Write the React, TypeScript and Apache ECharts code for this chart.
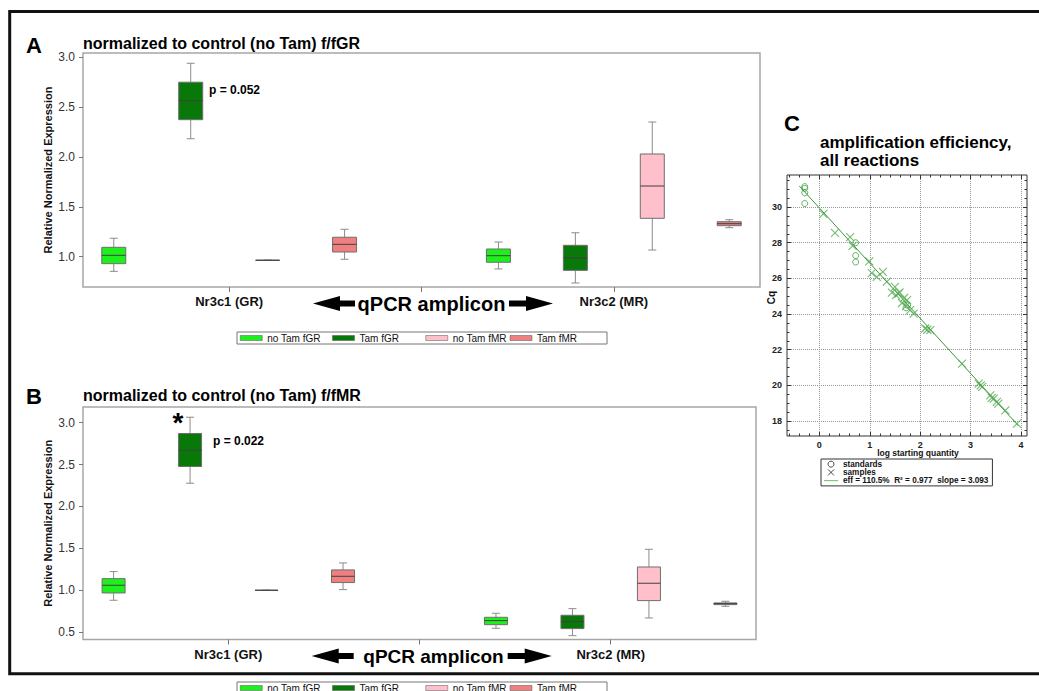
import React, { useEffect, useRef } from 'react';
import * as echarts from 'echarts';

// ---------- data ----------
const genes = ['Nr3c1 (GR)', 'Nr3c2 (MR)'];
const groupNames = ['no Tam fGR', 'Tam fGR', 'no Tam fMR', 'Tam fMR'];

// Panel A: [min, Q1, median, Q3, max] for Nr3c1, Nr3c2
const aNoTamFGR = [[0.853, 0.93, 1.014, 1.094, 1.185], [0.877, 0.944, 1.01, 1.077, 1.147]];
const aTamFGR = [[2.183, 2.374, 2.565, 2.75, 2.94], [0.736, 0.863, 0.987, 1.114, 1.24]];
const aNoTamFMR = [[0.964, 0.964, 0.964, 0.964, 0.964], [1.067, 1.385, 1.709, 2.03, 2.351]];
const aTamFMR = [[0.974, 1.047, 1.124, 1.195, 1.275], [1.291, 1.311, 1.331, 1.351, 1.371]];

// Panel B
const bNoTamFGR = [[0.881, 0.968, 1.06, 1.139, 1.223], [0.547, 0.59, 0.638, 0.678, 0.726]];
const bTamFGR = [[2.277, 2.476, 2.671, 2.87, 3.064], [0.459, 0.543, 0.626, 0.702, 0.781]];
const bNoTamFMR = [[1.0, 1.0, 1.0, 1.0, 1.0], [0.67, 0.877, 1.084, 1.278, 1.489]];
const bTamFMR = [[1.008, 1.092, 1.167, 1.243, 1.326], [0.809, 0.829, 0.841, 0.849, 0.869]];

const aTicks = [1.0, 1.5, 2.0, 2.5, 3.0];
const bTicks = [0.5, 1.0, 1.5, 2.0, 2.5, 3.0];
const pValueA = 'p = 0.052';
const pValueB = 'p = 0.022';

// Panel C: amplification efficiency
const standardsX = [-0.29, -0.29, -0.29, -0.29, 0.72, 0.72, 0.72, 1.72, 1.75];
const standardsY = [31.15, 31.05, 30.8, 30.2, 28.0, 27.28, 26.92, 24.35, 24.5];
const samplesX = [0.08, 0.31, 0.61, 0.66, 0.99, 1.04, 1.14, 1.26, 1.34, 1.44, 1.5, 1.52, 1.57, 1.59, 1.64, 1.68, 1.72, 1.74, 1.8, 1.87, 2.1, 2.14, 2.2, 2.83, 3.16, 3.2, 3.23, 3.39, 3.42, 3.46, 3.52, 3.55, 3.69, 3.92];
const samplesY = [29.62, 28.55, 28.32, 27.82, 26.96, 26.3, 26.08, 26.36, 25.82, 25.2, 25.52, 25.06, 25.15, 25.22, 24.62, 24.9, 24.45, 24.78, 24.22, 24.03, 23.19, 23.12, 23.1, 21.22, 20.1, 20.0, 19.92, 19.44, 19.3, 19.26, 19.07, 18.98, 18.6, 17.85];
const fitX = [-0.4, 3.95];
const fitY = [31.19, 17.73];
const fitName = 'eff = 110.5%  R\u00b2 = 0.977  slope = 3.093';
const cXTicks = [0, 1, 2, 3, 4];
const cYTicks = [18, 20, 22, 24, 26, 28, 30];

// ---------- styles ----------
const FONT = '"Liberation Sans", Arial, Helvetica, sans-serif';
const groupColors = ['#1ef01e', '#087808', '#ffc0cb', '#f08080'];
const legendTextW = [65, 66, 57, 67];
const green = '#3f9d3f';
const crossPath = 'path://M0,0L10,10M10,0L0,10';
const linePath = 'path://M0,0L20,0L20,1L0,1Z';

const makeBoxRenderer = (boxW: number, capW: number) => (params: any, api: any) => {
  const x = api.value(0);
  const pMin = api.coord([x, api.value(1)]);
  const pQ1 = api.coord([x, api.value(2)]);
  const pMed = api.coord([x, api.value(3)]);
  const pQ3 = api.coord([x, api.value(4)]);
  const pMax = api.coord([x, api.value(5)]);
  const cx = pMed[0];
  const color = api.visual('color');
  const wStyle = { stroke: '#8c8c8c', lineWidth: 1 };
  return {
    type: 'group',
    children: [
      { type: 'line', shape: { x1: cx, y1: pMax[1], x2: cx, y2: pQ3[1] }, style: wStyle },
      { type: 'line', shape: { x1: cx, y1: pQ1[1], x2: cx, y2: pMin[1] }, style: wStyle },
      { type: 'line', shape: { x1: cx - capW / 2, y1: pMax[1], x2: cx + capW / 2, y2: pMax[1] }, style: wStyle },
      { type: 'line', shape: { x1: cx - capW / 2, y1: pMin[1], x2: cx + capW / 2, y2: pMin[1] }, style: wStyle },
      {
        type: 'rect',
        shape: { x: cx - boxW / 2, y: pQ3[1], width: boxW, height: pQ1[1] - pQ3[1] },
        style: { fill: color, stroke: '#6e6e6e', lineWidth: 1 },
      },
      { type: 'line', shape: { x1: cx - boxW / 2, y1: pMed[1], x2: cx + boxW / 2, y2: pMed[1] }, style: { stroke: '#404040', lineWidth: 1 } },
    ],
  };
};

const boxSeries = (panel: number, sets: number[][][], boxW: number) =>
  sets.map((set, s) => ({
    type: 'custom',
    name: groupNames[s],
    xAxisIndex: panel,
    yAxisIndex: panel,
    itemStyle: { color: groupColors[s] },
    encode: { x: 0, y: [1, 2, 3, 4, 5] },
    data: set.map((v, g) => [g * 5 + s, ...v]),
    renderItem: makeBoxRenderer(boxW, 8),
    z: 3,
  }));

const geneCenters = genes.map((_, g) => g * 5 + 1.5);
const geneTicks = [...geneCenters, ...genes.slice(1).map((_, g) => g * 5 + 4)];

const boxXAxis = (gridIndex: number) => ({
  gridIndex,
  type: 'value',
  min: -0.4,
  max: 8.4,
  axisLine: { show: false, onZero: false },
  axisTick: { show: true, customValues: geneTicks, length: 5, lineStyle: { color: '#777' } },
  axisLabel: {
    customValues: geneCenters,
    formatter: (v: number) => genes[Math.round((v - 1.5) / 5)],
    fontFamily: FONT,
    fontWeight: 'bold',
    fontSize: 13,
    color: '#111',
    margin: 8,
  },
  splitLine: { show: false },
});

const boxYAxis = (gridIndex: number, min: number, max: number, ticks: number[]) => ({
  gridIndex,
  type: 'value',
  min,
  max,
  axisLine: { show: false, onZero: false },
  axisTick: { show: true, customValues: ticks, length: 4, lineStyle: { color: '#777' } },
  axisLabel: {
    customValues: ticks,
    formatter: (v: number) => v.toFixed(1),
    fontFamily: FONT,
    fontSize: 12,
    color: '#333',
    margin: 8,
  },
  splitLine: { show: false },
  name: 'Relative Normalized Expression',
  nameLocation: 'middle',
  nameGap: 30,
  nameMoveOverlap: false,
  nameTextStyle: { fontFamily: FONT, fontWeight: 'bold', fontSize: 11, color: '#111' },
});

const boxLegend = (top: number) => ({
  left: 237,
  top,
  orient: 'horizontal',
  itemGap: 0,
  itemWidth: 22,
  itemHeight: 5,
  icon: 'rect',
  padding: [1, 3],
  borderColor: '#777',
  borderWidth: 1,
  backgroundColor: '#fff',
  selectedMode: false,
  textStyle: { fontFamily: FONT, fontSize: 10, color: '#111', lineHeight: 10 },
  itemStyle: { borderColor: '#555', borderWidth: 0.5 },
  data: groupNames.map((n, i) => ({ name: n, textStyle: { width: legendTextW[i] } })),
});

const leftArrow = (tipX: number, cy: number) => ({
  type: 'polygon',
  shape: {
    points: [
      [tipX, cy], [tipX + 27, cy - 7.5], [tipX + 27, cy - 3], [tipX + 42, cy - 3],
      [tipX + 42, cy + 3], [tipX + 27, cy + 3], [tipX + 27, cy + 7.5],
    ],
  },
  style: { fill: '#000' },
});
const rightArrow = (x0: number, cy: number) => ({
  type: 'polygon',
  shape: {
    points: [
      [x0, cy - 3], [x0 + 17, cy - 3], [x0 + 17, cy - 7.5], [x0 + 44, cy],
      [x0 + 17, cy + 7.5], [x0 + 17, cy + 3], [x0, cy + 3],
    ],
  },
  style: { fill: '#000' },
});
const txt = (text: string, x: number, y: number, size: number, bold = true, align = 'left') => ({
  type: 'text',
  x,
  y,
  style: {
    text,
    fontFamily: FONT,
    fontSize: size,
    fontWeight: bold ? 'bold' : 'normal',
    fill: '#000',
    align,
    verticalAlign: 'middle',
  },
});

const cAxisCommon = {
  gridIndex: 2,
  type: 'value',
  axisLine: { show: false, onZero: false },
  minorSplitLine: { show: false },
};

const option: any = {
  animation: false,
  backgroundColor: '#fff',
  textStyle: { fontFamily: FONT },
  grid: [
    { left: 83, top: 53, width: 677, height: 234, show: true, borderColor: '#a6a6a6', borderWidth: 1.5, backgroundColor: 'transparent' },
    { left: 83, top: 407, width: 673, height: 232.5, show: true, borderColor: '#a6a6a6', borderWidth: 1.5, backgroundColor: 'transparent' },
    { left: 787, top: 175, width: 240, height: 261, show: true, borderColor: '#333', borderWidth: 1, backgroundColor: 'transparent' },
  ],
  xAxis: [
    boxXAxis(0),
    boxXAxis(1),
    {
      ...cAxisCommon,
      min: -0.642,
      max: 4.119,
      splitNumber: 5,
      axisTick: { show: true, inside: true, length: 4, customValues: cXTicks, lineStyle: { color: '#333' } },
      minorTick: { show: true, splitNumber: 5, length: 2.5, lineStyle: { color: '#333' } },
      axisLabel: { customValues: cXTicks, fontFamily: FONT, fontSize: 9, fontWeight: 'bold', color: '#222', margin: 4 },
      splitLine: { show: true, lineStyle: { type: 'dotted', color: '#999' } },
      name: 'log starting quantity',
      nameLocation: 'middle',
      nameGap: 12,
      nameMoveOverlap: false,
      nameTextStyle: { fontFamily: FONT, fontSize: 8.5, fontWeight: 'bold', color: '#111', padding: [0, 0, 0, 22] },
    },
    {
      ...cAxisCommon,
      position: 'top',
      min: -0.642,
      max: 4.119,
      splitNumber: 5,
      axisTick: { show: true, inside: true, length: 4, customValues: cXTicks, lineStyle: { color: '#333' } },
      minorTick: { show: true, splitNumber: 5, length: 2.5, lineStyle: { color: '#333' } },
      axisLabel: { show: false },
      splitLine: { show: false },
    },
  ],
  yAxis: [
    boxYAxis(0, 0.696, 3.043, aTicks),
    boxYAxis(1, 0.413, 3.186, bTicks),
    {
      ...cAxisCommon,
      min: 17.16,
      max: 31.8,
      splitNumber: 7,
      axisTick: { show: true, inside: true, length: 4, customValues: cYTicks, lineStyle: { color: '#333' } },
      minorTick: { show: true, splitNumber: 4, length: 2.5, lineStyle: { color: '#333' } },
      axisLabel: { customValues: cYTicks, fontFamily: FONT, fontSize: 9, fontWeight: 'bold', color: '#222', margin: 5 },
      splitLine: { show: true, lineStyle: { type: 'dotted', color: '#999' } },
      name: 'Cq',
      nameLocation: 'middle',
      nameGap: 11,
      nameMoveOverlap: false,
      nameTextStyle: { fontFamily: FONT, fontSize: 10, fontWeight: 'bold', color: '#111', padding: [0, 0, 0, 16] },
    },
    {
      ...cAxisCommon,
      position: 'right',
      min: 17.16,
      max: 31.8,
      splitNumber: 7,
      axisTick: { show: true, inside: true, length: 4, customValues: cYTicks, lineStyle: { color: '#333' } },
      minorTick: { show: true, splitNumber: 4, length: 2.5, lineStyle: { color: '#333' } },
      axisLabel: { show: false },
      splitLine: { show: false },
    },
  ],
  legend: [
    boxLegend(332),
    boxLegend(682),
    {
      left: 821,
      top: 459,
      orient: 'vertical',
      itemGap: 0,
      itemWidth: 14,
      itemHeight: 6,
      padding: [1, 4, 1, 3],
      borderColor: '#333',
      borderWidth: 1,
      selectedMode: false,
      textStyle: { fontFamily: FONT, fontSize: 8.2, fontWeight: 'bold', color: '#111', lineHeight: 8.3 },
      data: [
        { name: 'standards', icon: 'circle', itemStyle: { color: 'transparent', borderColor: '#222', borderWidth: 1 } },
        { name: 'samples', icon: crossPath, itemStyle: { color: 'transparent', borderColor: '#222', borderWidth: 1 } },
        { name: fitName, icon: linePath, itemStyle: { color: '#3a963a', borderWidth: 0 } },
      ],
    },
  ],
  series: [
    ...boxSeries(0, [aNoTamFGR, aTamFGR, aNoTamFMR, aTamFMR], 24),
    ...boxSeries(1, [bNoTamFGR, bTamFGR, bNoTamFMR, bTamFMR], 23),
    {
      type: 'line',
      name: fitName,
      xAxisIndex: 2,
      yAxisIndex: 2,
      data: fitX.map((x, i) => [x, fitY[i]]),
      symbol: 'none',
      lineStyle: { color: '#3a963a', width: 1 },
      itemStyle: { color: '#3a963a' },
      z: 2,
    },
    {
      type: 'scatter',
      name: 'standards',
      xAxisIndex: 2,
      yAxisIndex: 2,
      data: standardsX.map((x, i) => [x, standardsY[i]]),
      symbol: 'circle',
      symbolSize: 6,
      itemStyle: { color: 'transparent', borderColor: green, borderWidth: 1 },
      z: 3,
    },
    {
      type: 'scatter',
      name: 'samples',
      xAxisIndex: 2,
      yAxisIndex: 2,
      data: samplesX.map((x, i) => [x, samplesY[i]]),
      symbol: crossPath,
      symbolSize: 8,
      itemStyle: { color: 'transparent', borderColor: '#52aa52', borderWidth: 1.1 },
      z: 3,
    },
  ],
  graphic: [
    { type: 'rect', shape: { x: 9.7, y: 11.5, width: 1100, height: 662.2 }, style: { fill: 'none', stroke: '#111', lineWidth: 3 }, z: 10 },
    txt('A', 26, 45, 22),
    txt('normalized to control (no Tam) f/fGR', 83, 43, 16),
    txt(pValueA, 209, 90, 12),
    leftArrow(313, 303.5),
    txt('qPCR amplicon', 431.5, 303.5, 20, true, 'center'),
    rightArrow(509, 303.5),
    txt('B', 26, 396, 22),
    txt('normalized to control (no Tam) f/fMR', 83, 395, 16),
    txt(pValueB, 213, 440.7, 12),
    txt('*', 178, 422.5, 28, true, 'center'),
    leftArrow(311.7, 656),
    txt('qPCR amplicon', 433.5, 656, 19, true, 'center'),
    rightArrow(507.7, 656),
    txt('C', 784, 123, 22),
    txt('amplification efficiency,', 820, 142, 17),
    txt('all reactions', 820, 160, 17),
  ],
};

export default function App() {
  const ref = useRef<HTMLDivElement>(null);
  useEffect(() => {
    const chart = echarts.init(ref.current!, null, { renderer: 'svg' });
    chart.setOption(option);
    return () => chart.dispose();
  }, []);
  return (
    <div
      ref={ref}
      style={{ position: 'absolute', left: 0, top: 0, width: 1039, height: 691, background: '#fff' }}
    />
  );
}
